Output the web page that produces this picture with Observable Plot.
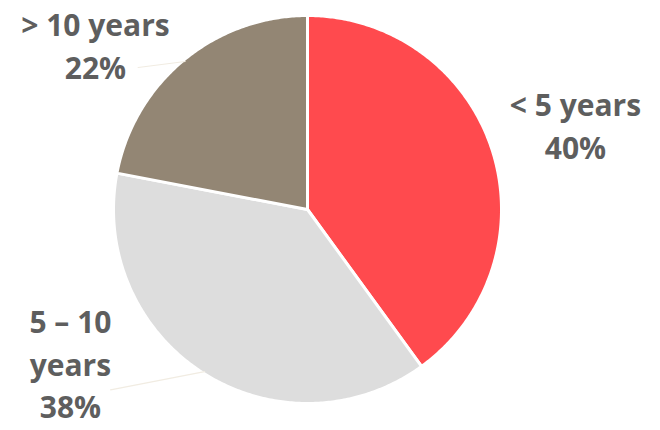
<!DOCTYPE html>
<html>
<head>
<meta charset="utf-8">
<script src="https://cdn.jsdelivr.net/npm/d3@7"></script>
<script src="https://cdn.jsdelivr.net/npm/@observablehq/plot@0.6"></script>
<style>
  html, body { margin: 0; padding: 0; background: #ffffff; }
  #chart { width: 660px; height: 430px; }
</style>
</head>
<body>
<div id="chart"></div>
<script>
// ---- data ----
const categories = ["< 5 years", "5 – 10 years", "> 10 years"];
const shares = [40, 38, 22];
const labelLines = ["< 5 years\n40%", "5 – 10\nyears\n38%", "> 10 years\n22%"];

// ---- styling / layout (not data) ----
const colors = ["#FF4A4E", "#DDDDDD", "#938674"];
const labelPos = [[1.381, 0.44], [-1.222, -0.785], [-1.093, 0.855]]; // label centers in pie units
const leaderEnd = [null, [-1.015, -0.93], [-0.873, 0.732]];

const pie = d3.pie().sort(null).value(d => d.value).startAngle(0).endAngle(2 * Math.PI);
const arcs = pie(categories.map((c, i) => ({category: c, value: shares[i], i})));

function slicePoints(a) {
  const pts = [{x: 0, y: 0}];
  const n = Math.max(2, Math.ceil((a.endAngle - a.startAngle) / 0.01));
  for (let k = 0; k <= n; k++) {
    const t = a.startAngle + (a.endAngle - a.startAngle) * k / n;
    pts.push({x: Math.sin(t), y: Math.cos(t)});
  }
  pts.push({x: 0, y: 0});
  return pts;
}

const marks = [];
arcs.forEach((a, i) => {
  marks.push(Plot.line(slicePoints(a), {
    x: "x", y: "y", fill: colors[i], stroke: "#ffffff", strokeWidth: 3,
    strokeLinejoin: "round", curve: "linear"
  }));
});
// faint leader lines from the slice edge at its mid-angle
arcs.forEach((a, i) => {
  if (!leaderEnd[i]) return;
  const m = (a.startAngle + a.endAngle) / 2;
  marks.push(Plot.line([{x: Math.sin(m) * 0.99, y: Math.cos(m) * 0.99}, {x: leaderEnd[i][0], y: leaderEnd[i][1]}], {
    x: "x", y: "y", stroke: "#F1ECE2", strokeWidth: 1.2, curve: "natural"
  }));
});
marks.push(Plot.text(arcs.map((a, i) => ({x: labelPos[i][0], y: labelPos[i][1], t: labelLines[i]})), {
  x: "x", y: "y", text: "t", fill: "#5E5E5E", fontSize: 30, fontWeight: 700,
  fontFamily: "'Open Sans', Lato, sans-serif", lineHeight: 1.43, textAnchor: "middle"
}));

const chart = Plot.plot({
  width: 660,
  height: 430,
  margin: 0,
  x: {domain: [-1, 1], range: [113, 501], axis: null},
  y: {domain: [-1, 1], range: [403, 15], axis: null},
  style: {background: "#ffffff", overflow: "visible"},
  marks
});
document.getElementById("chart").appendChild(chart);
</script>
</body>
</html>
